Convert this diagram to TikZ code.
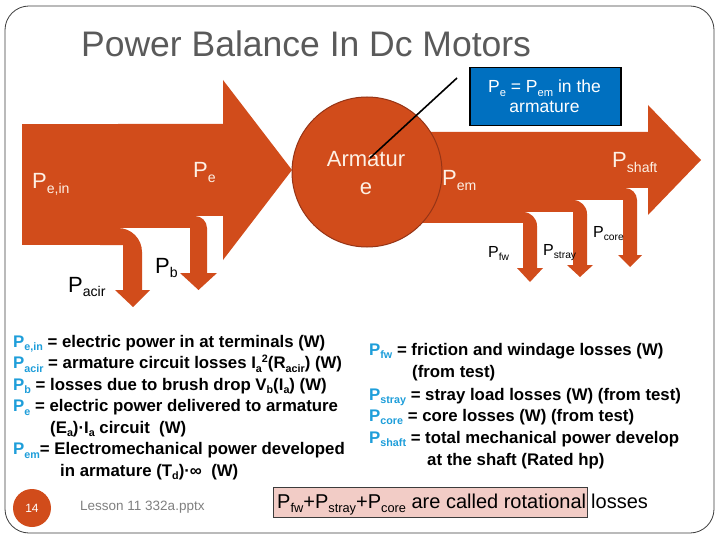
\documentclass[tikz,border=0pt]{standalone}
\usepackage{fontspec}
\setmainfont{Liberation Sans}
\definecolor{org}{RGB}{209,76,27}
\definecolor{orgd}{RGB}{150,52,22}
\definecolor{cream}{RGB}{253,240,228}
\definecolor{pblue}{RGB}{30,158,218}
\definecolor{boxblue}{RGB}{0,112,192}
\definecolor{pinkf}{RGB}{242,204,198}
\definecolor{titleg}{RGB}{90,90,90}
\definecolor{frameg}{RGB}{60,60,60}
\definecolor{lessg}{RGB}{128,128,128}
\makeatletter
\newcommand\sbs[1]{\raisebox{-0.22em}{\fontsize{\the\dimexpr\f@size pt*64/100\relax}{0pt}\selectfont #1}}
\newcommand\sps[1]{\raisebox{0.38em}{\fontsize{\the\dimexpr\f@size pt*64/100\relax}{0pt}\selectfont #1}}
\makeatother
\newcommand\cP[1]{{\color{pblue}P\sbs{#1}}}
\begin{document}
\begin{tikzpicture}[x=1pt,y=-1pt,
  flow/.style={fill=org, draw=none},
  wlbl/.style={anchor=base west, inner sep=0, text=cream, font=\fontsize{22}{26}\selectfont},
  blbl/.style={anchor=base west, inner sep=0, text=black, font=\fontsize{22}{26}\selectfont},
  slbl/.style={anchor=base west, inner sep=0, text=black, font=\fontsize{16}{19}\selectfont},
  deftxt/.style={anchor=base west, inner sep=0, font=\bfseries\fontsize{16.8}{20}\selectfont},
]
\useasboundingbox (0,0) rectangle (720,540);
\fill[white] (0,0) rectangle (720,540);
\draw[frameg, line width=0.8pt, rounded corners=24pt] (5,6) rectangle (714,533);

% title
\node[anchor=base west, inner sep=0, text=titleg, font=\fontsize{35.5}{40}\selectfont] (title) at (81,57) {Power Balance In Dc Motors};

% ---- left flow ----
\fill[flow] (22,124) rectangle (118,245);
\fill[flow] (118,124) -- (223,124) -- (223,80) -- (292,170) -- (223,260) -- (223,216) -- (118,216) -- cycle;
\fill[flow] (118,216) rectangle (195,228);
\fill[flow] (100,228) -- (118,228) .. controls (131.25,228) and (142,238.75) .. (142,252) -- (142,290) -- (150,290) -- (133,307) -- (115,290) -- (123,290) -- (123,245) -- (100,245) -- cycle;
\fill[flow] (170,216) -- (195,216) .. controls (201.6,216) and (207,221.4) .. (207,228) -- (207,273) -- (217,273) -- (198.5,290) -- (180,273) -- (190,273) -- (190,228) -- (170,228) -- cycle;

% ---- right flow ----
\fill[flow] (410,132) -- (648,132) -- (648,105) -- (701,160) -- (648,215) -- (648,188) -- (410,188) -- cycle;
\fill[flow] (410,188) rectangle (625,200);
\fill[flow] (410,200) rectangle (573,212);
\fill[flow] (410,212) rectangle (523,223);
\fill[flow] (600,188) -- (625,188) .. controls (631.6,188) and (637,193.4) .. (637,200) -- (637,255) -- (642,255) -- (630,267) -- (618,255) -- (623,255) -- (623,200) -- (600,200) -- cycle;
\fill[flow] (550,200) -- (573,200) .. controls (580.7,200) and (587,206.3) .. (587,214) -- (587,265) -- (593,265) -- (580,277) -- (567,265) -- (573,265) -- (573,212) -- (550,212) -- cycle;
\fill[flow] (500,212) -- (523,212) .. controls (530.7,212) and (537,218.3) .. (537,226) -- (537,268) -- (543,268) -- (530,282) -- (517,268) -- (523,268) -- (523,223) -- (500,223) -- cycle;

% armature circle
\node[circle, fill=org, draw=orgd, line width=1pt, minimum size=150pt, inner sep=0] (arm) at (367,172) {};
\node[anchor=base, inner sep=0, text=cream, font=\fontsize{22}{26}\selectfont] (armt1) at (366,167) {Armatur};
\node[anchor=base, inner sep=0, text=cream, font=\fontsize{22}{26}\selectfont] (armt2) at (366,195) {e};

% flow labels
\node[wlbl] (lpein) at (32,189) {P\sbs{e,in}};
\node[wlbl] (lpe) at (193,178) {P\sbs{e}};
\node[blbl] (lpacir) at (68,292) {P\sbs{acir}};
\node[blbl] (lpb) at (155,273) {P\sbs{b}};
\node[wlbl] (lpem) at (442,186) {P\sbs{em}};
\node[wlbl] (lpshaft) at (612,168) {P\sbs{shaft}};
\node[slbl] (lpfw) at (488,257) {P\sbs{fw}};
\node[slbl] (lpstray) at (543,255) {P\sbs{stray}};
\node[slbl] (lpcore) at (593,237) {P\sbs{core}};

% callout
\node[draw=black, line width=1.5pt, fill=boxblue, minimum width=151pt, minimum height=58pt, inner sep=0, anchor=north west] (callout) at (469,67) {};
\node[anchor=base, inner sep=0, text=white, font=\fontsize{17.5}{20}\selectfont] (callt1) at (544.5,93) {P\sbs{e} = P\sbs{em} in the};
\node[anchor=base, inner sep=0, text=white, font=\fontsize{17.5}{20}\selectfont] (callt2) at (544.5,113) {armature};
\coordinate (cs) at (457,78);
\coordinate (ce) at (370,158);
\draw[black, line width=1.6pt] (cs) -- (ce);

% definitions left
\node[deftxt] (d1) at (13,347) {\cP{e,in} = electric power in at terminals (W)};
\node[deftxt] (d2) at (13,368.5) {\cP{acir} = armature circuit losses I\sbs{a}\sps{2}(R\sbs{acir}) (W)};
\node[deftxt] (d3) at (13,390) {\cP{b} = losses due to brush drop V\sbs{b}(I\sbs{a}) (W)};
\node[deftxt] (d4) at (13,411.5) {\cP{e} = electric power delivered to armature};
\node[deftxt] (d5) at (50,433) {(E\sbs{a})·I\sbs{a} circuit\ \ (W)};
\node[deftxt] (d6) at (13,454.5) {\cP{em}= Electromechanical power developed};
\node[deftxt] (d7) at (60,476) {in armature (T\sbs{d})·∞\ \ (W)};

% definitions right
\node[deftxt] (r1) at (369,355) {\cP{fw} = friction and windage losses (W)};
\node[deftxt] (r2) at (412,377) {(from test)};
\node[deftxt] (r3) at (369,400) {\cP{stray} = stray load losses (W) (from test)};
\node[deftxt] (r4) at (369,421) {\cP{core} = core losses (W) (from test)};
\node[deftxt] (r5) at (369,443) {\cP{shaft} = total mechanical power develop};
\node[deftxt] (r6) at (427,465) {at the shaft (Rated hp)};

% footer
\node[circle, fill=org, minimum size=38pt, inner sep=0, text=white, font=\fontsize{12}{14}\selectfont] (pg) at (32,508) {14};
\node[anchor=base west, inner sep=0, text=lessg, font=\fontsize{13.5}{16}\selectfont] (lesson) at (80,510) {Lesson 11 332a.pptx};
\node[draw=frameg, line width=0.8pt, fill=pinkf, minimum width=314pt, minimum height=30pt, inner sep=0, anchor=north west] (pbox) at (273,487) {};
\node[anchor=base west, inner sep=0, font=\fontsize{20}{24}\selectfont] (rot) at (277,508) {P\sbs{fw}+P\sbs{stray}+P\sbs{core} are called rotational};
\node[anchor=base west, inner sep=0, font=\fontsize{20}{24}\selectfont] (loss) at (591,508) {losses};
\end{tikzpicture}
\end{document}
